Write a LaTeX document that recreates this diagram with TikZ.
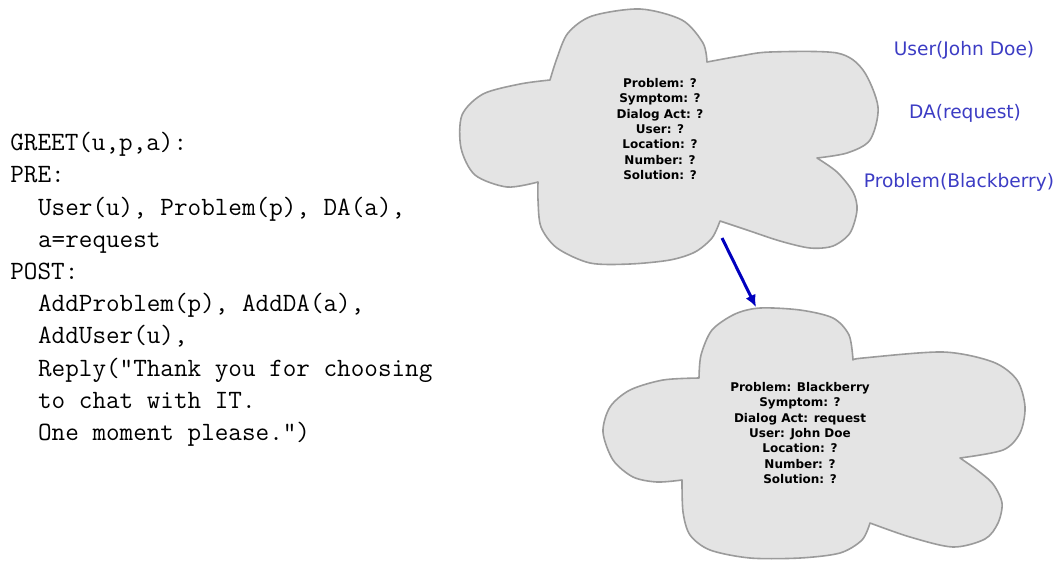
\documentclass[tikz,border=0pt]{standalone}
\usepackage{fontspec}
\newfontfamily\dejavu{DejaVu Sans}
\usetikzlibrary{arrows.meta}
\definecolor{cloudfill}{RGB}{228,228,228}
\definecolor{cloudedge}{RGB}{155,155,155}
\definecolor{factblue}{RGB}{60,60,196}
\definecolor{arrowblue}{RGB}{0,0,190}
\newcommand{\ind}{\hspace*{1.05em}}

\begin{document}
\begin{tikzpicture}[x=0.5pt, y=-0.5pt, line join=round,
    cloudbody/.style={fill=cloudfill, draw=cloudedge, line width=0.8pt},
    slot/.style={font=\dejavu\bfseries\fontsize{6}{7.67}\selectfont, align=center, text=black, inner sep=0pt},
    fact/.style={font=\dejavu\fontsize{9.3}{11}\selectfont, text=factblue, inner sep=0pt},
    flowarrow/.style={draw=arrowblue, line width=1.5pt, -{Latex[length=6pt,width=5.5pt]}}]
  \useasboundingbox (0,0) rectangle (1058,563);
  % operator
  \node[font=\ttfamily\fontsize{13.2}{16.1}\selectfont, align=left, anchor=north west, inner sep=0pt] (greet) at (10,132)
    {GREET(u,p,a):\\
     PRE:\\
     \ind User(u), Problem(p), DA(a),\\
     \ind a=request\\
     POST:\\
     \ind AddProblem(p), AddDA(a),\\
     \ind AddUser(u),\\
     \ind Reply("Thank you for choosing\\
     \ind to chat with IT.\\
     \ind One moment please.")};
  % first state
  \filldraw[cloudbody]
    plot[smooth] coordinates {(550,80) (557,58) (568,33) (592,16) (640,9) (682,20) (703,43) (707,62)}
    -- plot[smooth] coordinates {(707,62) (740,56) (770,52) (837,53) (863,70) (878,107) (870,140) (847,153) (817,158)}
    -- plot[smooth] coordinates {(817,158) (837,172) (853,192) (857,210) (850,233) (833,246) (810,248) (780,241) (747,230) (720,221)}
    -- plot[smooth] coordinates {(720,221) (712,238) (695,252) (670,260) (630,264) (590,263) (557,248) (541,227) (538,200) (538,182)}
    -- plot[smooth] coordinates {(538,182) (507,187) (475,175) (461,148) (462,115) (483,94) (520,84) (550,80)}
    -- cycle;
  \node[slot] (state0) at (660,129)
    {Problem: ?\\Symptom: ?\\Dialog Act: ?\\User: ?\\Location: ?\\Number: ?\\Solution: ?};
  % second state
  \filldraw[cloudbody]
    plot[smooth] coordinates {(699,378) (701,355) (712,330) (735,314) (760,308) (800,310) (833,318) (849,335) (853,360)}
    -- plot[smooth] coordinates {(853,360) (863,358) (943,352) (993,362) (1017,380) (1025,407) (1020,433) (1003,450) (960,458)}
    -- plot[smooth] coordinates {(960,458) (977,470) (993,484) (1002,503) (998,523) (985,539) (953,547) (910,537) (870,523)}
    -- plot[smooth] coordinates {(870,523) (862,540) (840,553) (800,558) (750,558) (710,550) (690,535) (683,512) (682,480)}
    -- plot[smooth] coordinates {(682,480) (657,482) (633,477) (613,460) (603,432) (610,407) (630,390) (663,380) (699,378)}
    -- cycle;
  \node[slot] (state1) at (800,433)
    {Problem: Blackberry\\Symptom: ?\\Dialog Act: request\\User: John Doe\\Location: ?\\Number: ?\\Solution: ?};
  % update
  \coordinate (c0out) at (722,238);
  \coordinate (c1in) at (756,307);
  \draw[flowarrow] (c0out) -- (c1in);
  % facts
  \node[fact] (userfact) at (964,50) {User(John Doe)};
  \node[fact] (dafact) at (965,113) {DA(request)};
  \node[fact] (probfact) at (959,182) {Problem(Blackberry)};
\end{tikzpicture}
\end{document}
